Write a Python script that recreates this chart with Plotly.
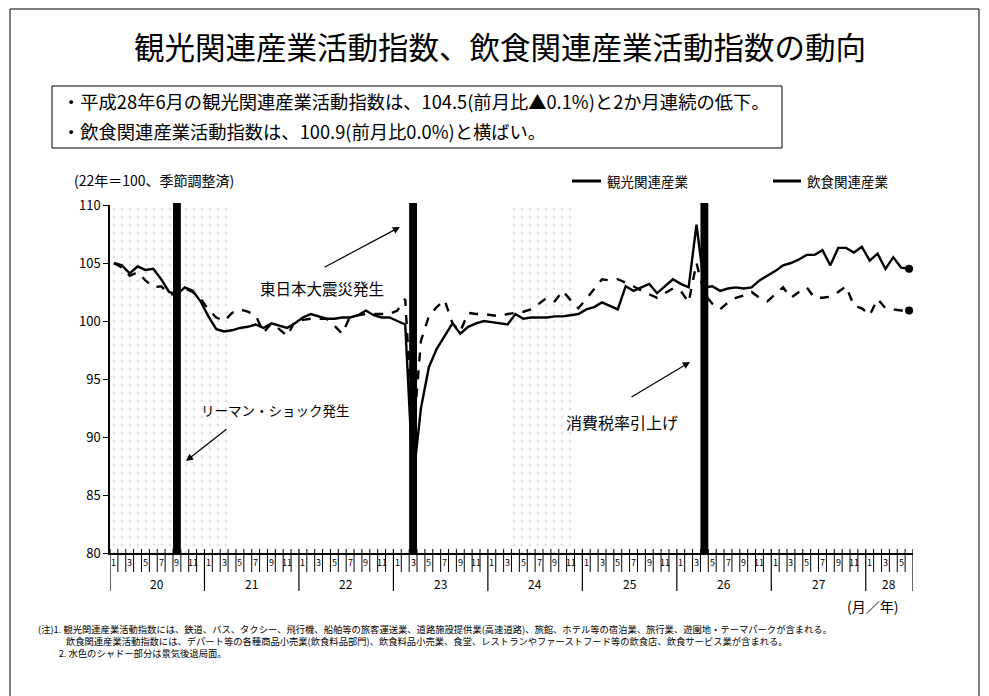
import plotly.graph_objects as go

# 平成20年1月〜平成28年6月（月次、22年=100、季節調整済）
years = ["20", "21", "22", "23", "24", "25", "26", "27", "28"]

tourism = [
    # 平成20年
    105.0, 104.8, 104.1, 104.7, 104.4, 104.5, 103.6, 102.5, 102.3, 102.9, 102.6, 101.7,
    # 平成21年
    100.4, 99.3, 99.1, 99.2, 99.4, 99.5, 99.7, 99.4, 99.8, 99.6, 99.4, 99.8,
    # 平成22年
    100.3, 100.6, 100.4, 100.2, 100.2, 100.3, 100.3, 100.5, 100.9, 100.5, 100.3, 100.3,
    # 平成23年
    100.0, 99.7, 86.3, 92.5, 96.0, 97.6, 98.7, 99.8, 98.9, 99.5, 99.8, 100.0,
    # 平成24年
    99.9, 99.8, 99.7, 100.6, 100.2, 100.3, 100.3, 100.3, 100.4, 100.4, 100.5, 100.6,
    # 平成25年
    101.0, 101.2, 101.6, 101.3, 101.0, 103.0, 102.6, 102.9, 103.2, 102.4, 103.0, 103.6,
    # 平成26年
    103.2, 102.9, 108.3, 102.9, 103.0, 102.6, 102.8, 102.9, 102.8, 102.9, 103.5, 103.9,
    # 平成27年
    104.3, 104.8, 105.0, 105.3, 105.7, 105.7, 106.1, 104.8, 106.3, 106.3, 105.9, 106.4,
    # 平成28年
    105.2, 105.8, 104.5, 105.5, 104.6, 104.5,
]

food = [
    # 平成20年
    105.0, 104.6, 103.9, 104.2, 103.5, 102.9, 103.0, 102.3, 102.3, 102.8, 102.5, 101.9,
    # 平成21年
    101.0, 100.3, 100.0, 100.7, 101.0, 100.8, 100.5, 99.0, 99.8, 99.3, 98.7, 100.0,
    # 平成22年
    100.1, 100.2, 100.2, 100.2, 99.6, 98.9, 100.4, 100.5, 100.6, 100.6, 100.6, 100.6,
    # 平成23年
    100.9, 101.9, 90.0, 98.3, 100.4, 101.2, 101.8, 99.8, 99.1, 100.7, 100.6, 100.6,
    # 平成24年
    100.5, 100.4, 100.6, 100.7, 100.8, 101.0, 101.5, 102.0, 101.7, 102.6, 101.8, 101.1,
    # 平成25年
    101.9, 102.8, 103.6, 103.5, 103.6, 103.3, 103.0, 102.6, 102.3, 102.0, 102.4, 102.8,
    # 平成26年
    102.6, 101.6, 105.0, 102.3, 101.5, 101.0, 101.6, 102.0, 102.2, 102.5, 102.0, 101.7,
    # 平成27年
    102.3, 102.9, 102.0, 102.5, 102.9, 102.0, 102.0, 102.1, 102.5, 103.0, 101.3, 101.1,
    # 平成28年
    100.5, 101.9, 101.1, 101.0, 100.9, 100.9,
]

months = list(range(len(tourism)))            # 0 = 平成20年1月
month_num = [m % 12 + 1 for m in months]

# 景気後退局面（月インデックス）
recessions = [(-0.5, 14.5), (50.5, 58.5)]
# 黒帯：リーマン・ショック、東日本大震災、消費税率引上げ
events = [8, 38, 75]

y_ticks = [80, 85, 90, 95, 100, 105, 110]

notes = [
    "(注)1. 観光関連産業活動指数には、鉄道、バス、タクシー、飛行機、船舶等の旅客運送業、道路施設提供業(高速道路)、旅館、ホテル等の宿泊業、旅行業、遊園地・テーマパークが含まれる。",
    "　　　飲食関連産業活動指数には、デパート等の各種商品小売業(飲食料品部門)、飲食料品小売業、食堂、レストランやファーストフード等の飲食店、飲食サービス業が含まれる。",
    "　　 2. 水色のシャドー部分は景気後退局面。",
]

# ---- レイアウト（ピクセル位置 → paper 座標）----
W, H = 989, 696
L, R, T, B = 110, 913, 205, 553
def fx(px):
    return (px - L) / (R - L)
def fy(py):
    return (B - py) / (B - T)

FONT = "Noto Sans CJK JP"

fig = go.Figure()

# 景気後退局面のシャドー
for x0, x1 in recessions:
    fig.add_trace(go.Bar(
        x=[(x0 + x1) / 2], y=[30], base=[80], width=[x1 - x0],
        marker=dict(color="rgba(0,0,0,0)", line=dict(width=0),
                    pattern=dict(shape=".", fgcolor="#c4c4c4", bgcolor="rgba(0,0,0,0)",
                                 size=8, solidity=0.1)),
        hoverinfo="skip", showlegend=False,
    ))

fig.add_trace(go.Scatter(
    x=months, y=food, mode="lines",
    line=dict(color="black", width=2.4, dash="dash"),
    showlegend=False,
))
fig.add_trace(go.Scatter(
    x=months, y=tourism, mode="lines",
    line=dict(color="black", width=2.4),
    showlegend=False,
))
fig.add_trace(go.Scatter(
    x=[months[-1], months[-1]], y=[tourism[-1], food[-1]], mode="markers",
    marker=dict(color="black", size=8),
    showlegend=False,
))

shapes = []
for m in events:
    shapes.append(dict(type="rect", xref="x", yref="paper", x0=m - 0.5, x1=m + 0.5,
                       y0=0, y1=fy(203), fillcolor="black", line=dict(width=0), layer="above"))

# 月の区切り目盛り
n = len(months)
for k in range(n + 1):
    xk = k - 0.5
    is_year = (k % 12 == 0) or (k == n)
    shapes.append(dict(type="line", xref="x", yref="paper", x0=xk, x1=xk,
                       y0=fy(549), y1=fy(591 if is_year else 572),
                       line=dict(color="black", width=1.2 if is_year else 1)))

# ページ外枠
shapes.append(dict(type="rect", xref="paper", yref="paper",
                   x0=fx(10), x1=fx(979), y0=fy(700), y1=fy(9),
                   line=dict(color="black", width=1)))
# 上部の枠
shapes.append(dict(type="rect", xref="paper", yref="paper",
                   x0=fx(52), x1=fx(782), y0=fy(148), y1=fy(86),
                   line=dict(color="black", width=1)))
# 凡例の線
shapes.append(dict(type="line", xref="paper", yref="paper",
                   x0=fx(572), x1=fx(601), y0=fy(181), y1=fy(181),
                   line=dict(color="black", width=3)))
shapes.append(dict(type="line", xref="paper", yref="paper",
                   x0=fx(773), x1=fx(801), y0=fy(181), y1=fy(181),
                   line=dict(color="black", width=3)))

ann = []
def text(px, py, s, size, anchor="left", color="black"):
    ann.append(dict(x=fx(px), y=fy(py), xref="paper", yref="paper", text=s,
                    showarrow=False, xanchor=anchor, yanchor="middle", align="left",
                    font=dict(family=FONT, size=size, color=color)))

text(500, 46, "観光関連産業活動指数、飲食関連産業活動指数の動向", 30.5, "center")
text(60, 101, "・平成28年6月の観光関連産業活動指数は、104.5(前月比▲0.1%)と2か月連続の低下。", 18.3)
text(60, 131, "・飲食関連産業活動指数は、100.9(前月比0.0%)と横ばい。", 18.3)
text(72, 180, "(22年＝100、季節調整済)", 14)
text(605, 181, "観光関連産業", 13.5)
text(805, 181, "飲食関連産業", 13.5)

# 右端の最新値
for v in (tourism[-1], food[-1]):
    ann.append(dict(x=months[-1] + 1.3, y=v, xref="x", yref="y", text=f"{v:.1f}",
                    showarrow=False, xanchor="left", yanchor="middle",
                    font=dict(family=FONT, size=15, color="black")))

# 月・年ラベル
for m in months:
    if month_num[m] % 2 == 1:
        ann.append(dict(x=m, y=fy(562), xref="x", yref="paper", text=str(month_num[m]),
                        showarrow=False, xanchor="center", yanchor="middle",
                        font=dict(family=FONT, size=9, color="black")))
for j, yl in enumerate(years):
    first = j * 12
    last = min(first + 11, n - 1)
    ann.append(dict(x=(first + last) / 2, y=fy(583), xref="x", yref="paper", text=yl,
                    showarrow=False, xanchor="center", yanchor="middle",
                    font=dict(family=FONT, size=12, color="black")))
text(872, 606, "(月／年)", 14, "center")

# 出来事の注記
text(322, 288, "東日本大震災発生", 15.5, "center")
text(275, 410, "リーマン・ショック発生", 13.5, "center")
text(622, 422, "消費税率引上げ", 16, "center")
for hx, hy, tx, ty in [(400, 227, 323, 268), (186, 461, 228, 428), (690, 362, 630, 398)]:
    ann.append(dict(x=fx(hx), y=fy(hy), xref="paper", yref="paper", text="",
                    showarrow=True, ax=tx - hx, ay=ty - hy, arrowhead=2,
                    arrowsize=1.2, arrowwidth=1.2, arrowcolor="black"))

# 注記（3行を1つのテキストとして）
text(36, 641, "<br>".join(notes), 9.3)

fig.update_layout(
    width=W, height=H,
    margin=dict(l=L, r=W - R, t=T, b=H - B, pad=0),
    paper_bgcolor="white", plot_bgcolor="white",
    barmode="overlay",
    font=dict(family=FONT, color="black"),
    shapes=shapes, annotations=ann,
    xaxis=dict(range=[-0.5, n - 0.5], showgrid=False, zeroline=False,
               showline=True, linecolor="black", linewidth=1.5,
               showticklabels=False, ticks=""),
    yaxis=dict(range=[80, 110], tickvals=y_ticks, showgrid=False, zeroline=False,
               showline=True, linecolor="black", linewidth=1.5,
               ticks="outside", ticklen=5, tickcolor="black",
               tickfont=dict(family=FONT, size=13, color="black")),
)

fig.write_html("out.html")
